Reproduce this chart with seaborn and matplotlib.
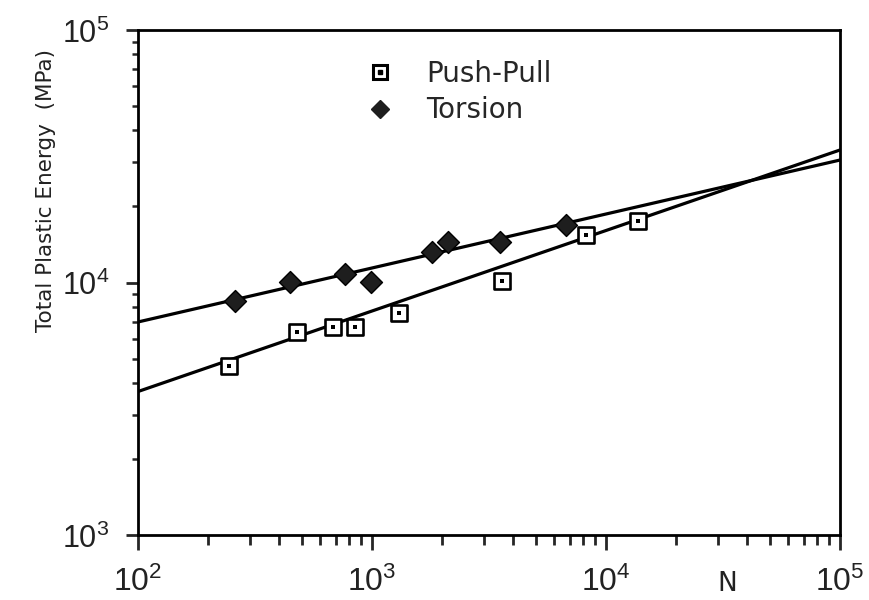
import pandas as pd
import seaborn as sns
import matplotlib.pyplot as plt
from matplotlib.lines import Line2D
from matplotlib.ticker import LogLocator, NullFormatter, FixedLocator, FixedFormatter

# dados
push_n = [244, 479, 680, 846, 1305, 3597, 8240, 13640]
push_e = [4670, 6385, 6680, 6646, 7550, 10140, 15420, 17570]
tors_n = [260, 445, 764, 988, 1803, 2105, 3527, 6765]
tors_e = [8470, 10070, 10780, 10070, 13210, 14470, 14510, 16890]

# retas ajustadas (valores nas bordas N=1e2 e N=1e5)
line_n = [1e2, 1e5]
push_line = [3700, 33480]
tors_line = [6977, 30550]

x_ticks = [1e2, 1e3, 1e4, 1e5]
x_labels = ['$10^2$', '$10^3$', '$10^4$', '$10^5$']
y_ticks = [1e3, 1e4, 1e5]
y_labels = ['$10^3$', '$10^4$', '$10^5$']

sns.set_style("ticks")
plt.rcParams['font.family'] = ['DejaVu Sans']
plt.rcParams['mathtext.fontset'] = 'custom'
plt.rcParams['mathtext.rm'] = 'Liberation Sans'
plt.rcParams['mathtext.it'] = 'Liberation Sans:italic'
plt.rcParams['mathtext.bf'] = 'Liberation Sans:bold'
plt.rcParams['mathtext.default'] = 'rm'

fig = plt.figure(figsize=(8.69, 6.0), dpi=100)
ax = fig.add_axes([138 / 869, 65 / 600, 702 / 869, 505 / 600])

push = pd.DataFrame({'N': push_n, 'E': push_e})
tors = pd.DataFrame({'N': tors_n, 'E': tors_e})
lines = pd.DataFrame({'N': line_n + line_n,
                      'E': push_line + tors_line,
                      'serie': ['p', 'p', 't', 't']})

#Retas
sns.lineplot(data=lines, x='N', y='E', units='serie', estimator=None,
             color='black', linewidth=2.3, ax=ax, legend=False)

#Pontos
sns.scatterplot(data=push, x='N', y='E', marker='s', s=140, facecolor='white',
                edgecolor='black', linewidth=1.9, ax=ax, zorder=3)
sns.scatterplot(data=push, x='N', y='E', marker='s', s=6, color='black',
                linewidth=0, ax=ax, zorder=4)
sns.scatterplot(data=tors, x='N', y='E', marker='D', s=125, color='#1e1e1e',
                edgecolor='black', linewidth=1.0, ax=ax, zorder=3)

ax.set_xscale('log')
ax.set_yscale('log')
ax.set_xlim(1e2, 1e5)
ax.set_ylim(1e3, 1e5)

for s in ax.spines.values():
    s.set_linewidth(2.0)
    s.set_color('black')

ax.xaxis.set_major_locator(FixedLocator(x_ticks))
ax.xaxis.set_major_formatter(FixedFormatter(x_labels))
ax.yaxis.set_major_locator(FixedLocator(y_ticks))
ax.yaxis.set_major_formatter(FixedFormatter(y_labels))
ax.xaxis.set_minor_locator(LogLocator(base=10, subs=range(2, 10)))
ax.yaxis.set_minor_locator(LogLocator(base=10, subs=range(2, 10)))
ax.xaxis.set_minor_formatter(NullFormatter())
ax.yaxis.set_minor_formatter(NullFormatter())
ax.tick_params(axis='x', which='major', direction='out', length=10.5, width=2,
               labelsize=23, pad=12, labelcolor='#222222')
ax.tick_params(axis='x', which='minor', direction='out', length=7, width=2)
ax.tick_params(axis='y', which='major', direction='out', length=8.5, width=2,
               labelsize=22, pad=12, labelcolor='#222222')
ax.tick_params(axis='y', which='minor', direction='out', length=4.5, width=1.8)

ax.set_xlabel('')
ax.set_ylabel('Total Plastic Energy  (MPa)', fontsize=15.5, color='#222222')
ax.yaxis.set_label_coords(-0.117, 0.683)
ax.text(0.839, -0.097, 'N', transform=ax.transAxes, fontsize=19,
        ha='center', va='center', color='#222222')

# legenda
h_sq = Line2D([], [], marker='s', linestyle='none', markersize=9.5, markerfacecolor='white',
              markeredgecolor='black', markeredgewidth=2.2)
h_dot = Line2D([], [], marker='s', linestyle='none', markersize=2.5, color='black')
h_dia = Line2D([], [], marker='D', linestyle='none', markersize=9.5, color='#1e1e1e')
ax.legend([(h_sq, h_dot), h_dia], ['Push-Pull', 'Torsion'], loc='upper left',
          bbox_to_anchor=(0.28, 0.99), frameon=False,
          prop={'family': 'DejaVu Sans', 'size': 20},
          handletextpad=0.9, labelspacing=0.3, handlelength=1.5)

plt.savefig('out.png', dpi=100)
